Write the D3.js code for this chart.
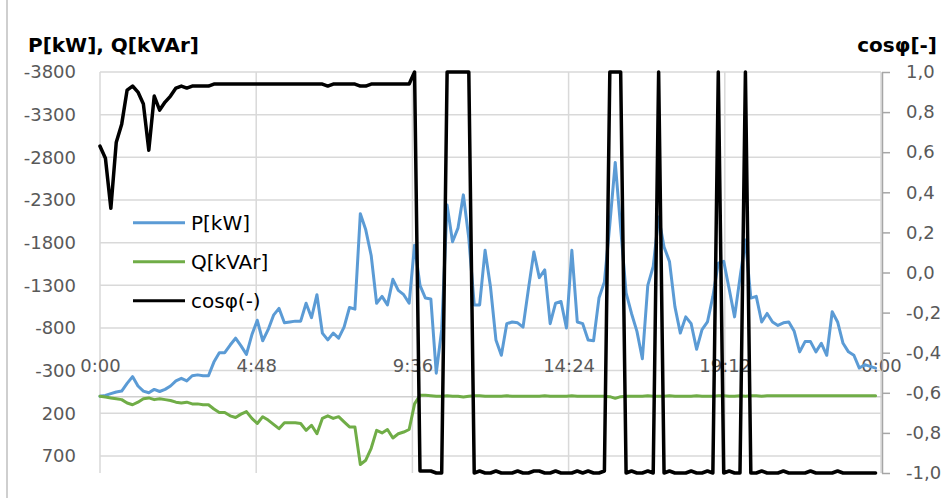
<!DOCTYPE html>
<html>
<head>
<meta charset="utf-8">
<script src="https://cdn.jsdelivr.net/npm/d3@7"></script>
<style>
  body { margin: 0; background: #fff; }
  svg { display: block; font-family: "DejaVu Sans", sans-serif; }
</style>
</head>
<body>
<svg id="chart" width="945" height="498"></svg>
<script>
// time step between samples (minutes), one day of data
const stepMinutes = 10;

// active power P [kW] (negative axis is up)
const pValues = [
  0, -10, -30, -50, -60, -150, -230, -120, -60, -40,
  -80, -55, -80, -120, -180, -210, -180, -240, -250, -240,
  -240, -400, -510, -510, -600, -680, -590, -490, -720, -890,
  -650, -780, -950, -1030, -860, -870, -880, -880, -1090, -920,
  -1190, -740, -660, -740, -680, -810, -1040, -1020, -2140, -1950,
  -1650, -1090, -1170, -1070, -1370, -1240, -1190, -1090, -1770, -1300,
  -1150, -1140, -270, -780, -2240, -1810, -1970, -2360, -1850, -1070,
  -1070, -1710, -1280, -660, -480, -850, -870, -860, -810, -1260,
  -1690, -1390, -1480, -850, -1090, -1110, -800, -1710, -870, -850,
  -660, -650, -1150, -1340, -2010, -2740, -1970, -1210, -970, -760,
  -440, -1300, -1520, -2100, -1750, -1580, -1050, -740, -930, -850,
  -550, -780, -870, -1170, -1560, -1580, -1260, -930, -1390, -1830,
  -1150, -1170, -870, -970, -870, -830, -860, -870, -760, -520,
  -640, -640, -520, -620, -480, -990, -870, -620, -520, -480,
  -330, -370, -350, -330
];

// reactive power Q [kVAr]
const qValues = [
  0, 10, 20, 30, 40, 80, 100, 70, 30, 20,
  40, 30, 40, 50, 70, 80, 70, 90, 90, 100,
  100, 150, 190, 190, 230, 250, 210, 180, 260, 320,
  240, 280, 330, 380, 310, 310, 310, 320, 400, 340,
  440, 260, 230, 260, 240, 300, 360, 360, 800, 750,
  610, 400, 430, 390, 490, 440, 420, 390, 90, -10,
  -10, -5, 0, 0, -5, 0, 0, 10, 0, -5,
  -5, 0, 0, 0, 0, -5, 0, 0, 0, 0,
  0, 0, -5, 0, 0, 0, 0, -5, 0, 0,
  0, 0, 0, 0, 5, 25, 5, 0, 0, 0,
  0, -5, 0, 0, 0, -5, 0, 0, 0, 0,
  -5, 0, 0, 0, -5, -5, 0, 0, -5, 0,
  -5, -5, 0, -5, -5, -5, -5, -5, -5, -5,
  -5, -5, -5, -5, -5, -5, -5, -5, -5, -5,
  -5, -5, -5, -5
];

// power factor cos(phi)
const cosValues = [
  0.63, 0.57, 0.32, 0.65, 0.74, 0.91, 0.93, 0.90, 0.84, 0.61,
  0.88, 0.81, 0.85, 0.88, 0.92, 0.93, 0.92, 0.93, 0.93, 0.93,
  0.93, 0.94, 0.94, 0.94, 0.94, 0.94, 0.94, 0.94, 0.94, 0.94,
  0.94, 0.94, 0.94, 0.94, 0.94, 0.94, 0.94, 0.94, 0.94, 0.94,
  0.94, 0.94, 0.93, 0.94, 0.94, 0.94, 0.94, 0.94, 0.93, 0.93,
  0.94, 0.94, 0.94, 0.94, 0.94, 0.94, 0.94, 0.94, 1.00, -0.99,
  -0.99, -0.99, -1.00, -1.00, 1.00, 1.00, 1.00, 1.00, 1.00, -1.00,
  -0.99, -1.00, -1.00, -0.99, -1.00, -1.00, -1.00, -0.99, -1.00, -1.00,
  -0.99, -0.99, -1.00, -1.00, -0.99, -1.00, -1.00, -1.00, -0.99, -1.00,
  -0.99, -1.00, -1.00, -0.99, 1.00, 1.00, 1.00, -1.00, -0.99, -1.00,
  -1.00, -0.99, -1.00, 1.00, -1.00, -0.99, -1.00, -1.00, -1.00, -0.99,
  -1.00, -1.00, -0.99, -1.00, 1.00, -1.00, -0.99, -1.00, -1.00, 1.00,
  -1.00, -1.00, -0.99, -1.00, -1.00, -1.00, -0.99, -1.00, -1.00, -1.00,
  -1.00, -0.99, -1.00, -1.00, -1.00, -1.00, -0.99, -1.00, -1.00, -1.00,
  -1.00, -1.00, -1.00, -1.00
];

// axis ticks
const timeTicks = [0, 288, 576, 864, 1152, 1440];  // minutes
const leftTicks = [-3800, -3300, -2800, -2300, -1800, -1300, -800, -300, 200, 700];
const rightTicks = [1, 0.8, 0.6, 0.4, 0.2, 0, -0.2, -0.4, -0.6, -0.8, -1];

const seriesNames = ["P[kW]", "Q[kVAr]", "cosφ(-)"];
const seriesColors = ["#5B9BD5", "#70AD47", "#000000"];

// ---- setup
const svg = d3.select("#chart");
const plot = { left: 100, right: 881, top: 72, bottom: 473 };

const x = d3.scaleLinear().domain([0, 1440]).range([plot.left, plot.right]);
const yLeft = d3.scaleLinear().domain([-3800, 900]).range([plot.top, plot.bottom]);
const yRight = d3.scaleLinear().domain([-1, 1]).range([plot.bottom, plot.top]);

const locale = d3.formatLocale({ decimal: ",", thousands: "", grouping: [3], currency: ["", ""], minus: "-" });
const fmtInt = locale.format("d");
const fmtDec = locale.format(".1f");
const fmtTime = m => `${Math.floor(m / 60) % 24}:${String(m % 60).padStart(2, "0")}`;

const labelColor = "#595959";
const gridColor = "#D9D9D9";

// chart border on the left
svg.append("line")
    .attr("x1", 7).attr("x2", 7).attr("y1", 0).attr("y2", 498)
    .attr("stroke", "#BFBFBF").attr("stroke-width", 1.5);

// horizontal gridlines
svg.append("g")
  .selectAll("line")
  .data(leftTicks)
  .join("line")
    .attr("x1", plot.left).attr("x2", plot.right)
    .attr("y1", d => yLeft(d)).attr("y2", d => yLeft(d))
    .attr("stroke", gridColor).attr("stroke-width", 1.5);

// vertical gridlines
svg.append("g")
  .selectAll("line")
  .data(timeTicks)
  .join("line")
    .attr("x1", d => x(d)).attr("x2", d => x(d))
    .attr("y1", plot.top).attr("y2", plot.bottom)
    .attr("stroke", gridColor).attr("stroke-width", 1.5);

// category axis crossing at zero, labels above it
const xAxis = svg.append("g")
    .attr("transform", `translate(0,${yLeft(0)})`)
    .call(d3.axisTop(x).tickValues(timeTicks).tickFormat(fmtTime).tickSize(0).tickPadding(24));
xAxis.select(".domain").attr("stroke", "#CFCFCF").attr("stroke-width", 1.5);
xAxis.selectAll("text")
    .attr("fill", labelColor).style("font-size", "18px").style("font-family", "DejaVu Sans");

// left axis
const leftAxis = svg.append("g")
    .attr("transform", `translate(${plot.left},0)`)
    .call(d3.axisLeft(yLeft).tickValues(leftTicks).tickFormat(fmtInt).tickSize(0).tickPadding(24));
leftAxis.select(".domain").remove();
leftAxis.selectAll("text")
    .attr("fill", labelColor).style("font-size", "18px").style("font-family", "DejaVu Sans");

// right axis
const rightAxis = svg.append("g")
    .attr("transform", `translate(${plot.right + 1},0)`)
    .call(d3.axisRight(yRight).tickValues(rightTicks).tickFormat(fmtDec).tickSizeInner(8).tickSizeOuter(0).tickPadding(16));
rightAxis.select(".domain").attr("stroke", "#A6A6A6").attr("stroke-width", 1.5);
rightAxis.selectAll(".tick line").attr("stroke", "#A6A6A6").attr("stroke-width", 1.5);
rightAxis.selectAll("text")
    .attr("fill", labelColor).style("font-size", "18px").style("font-family", "DejaVu Sans");

// axis titles
svg.append("text")
    .attr("x", 28).attr("y", 52)
    .style("font-size", "20px").style("font-weight", "bold").attr("fill", "#000")
    .text("P[kW], Q[kVAr]");
svg.append("text")
    .attr("x", 937).attr("y", 52).attr("text-anchor", "end")
    .style("font-size", "20px").style("font-weight", "bold").attr("fill", "#000")
    .text("cosφ[-]");

// ---- series
const tOf = (d, i) => x(i * stepMinutes);
const lineLeft = d3.line().x(tOf).y(d => yLeft(d));
const lineRight = d3.line().x(tOf).y(d => yRight(d));

svg.append("path")
    .datum(pValues)
    .attr("d", lineLeft)
    .attr("fill", "none").attr("stroke", seriesColors[0])
    .attr("stroke-width", 3).attr("stroke-linejoin", "round").attr("stroke-linecap", "round");

svg.append("path")
    .datum(qValues)
    .attr("d", lineLeft)
    .attr("fill", "none").attr("stroke", seriesColors[1])
    .attr("stroke-width", 3).attr("stroke-linejoin", "round").attr("stroke-linecap", "round");

svg.append("path")
    .datum(cosValues)
    .attr("d", lineRight)
    .attr("fill", "none").attr("stroke", seriesColors[2])
    .attr("stroke-width", 3.5).attr("stroke-linejoin", "round").attr("stroke-linecap", "round");

// ---- legend (no box, sits over the grid)
const legend = svg.append("g")
  .selectAll("g")
  .data(seriesNames)
  .join("g")
    .attr("transform", (d, i) => `translate(133,${222.7 + i * 39})`);

legend.append("line")
    .attr("x1", 0).attr("x2", 52)
    .attr("stroke", (d, i) => seriesColors[i]).attr("stroke-width", 3);

legend.append("text")
    .attr("x", 58).attr("dy", "0.35em")
    .style("font-size", "20px").attr("fill", "#000")
    .text(d => d);
</script>
</body>
</html>
